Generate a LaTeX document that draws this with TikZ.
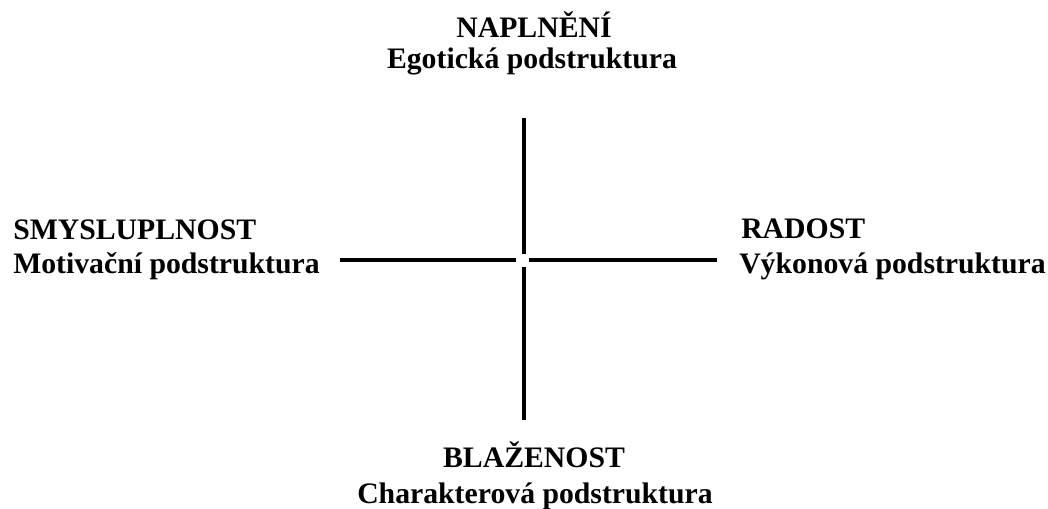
\documentclass[tikz,border=0pt]{standalone}
\usepackage{fontspec}
\setmainfont{Liberation Serif}
\begin{document}
\begin{tikzpicture}[x=0.75pt,y=-0.75pt,
  lbl/.style={inner sep=0pt,font=\fontsize{22.3}{26}\selectfont\bfseries},
  axis/.style={line width=3pt,line cap=butt,black}]
\useasboundingbox (0,0) rectangle (1048,508);
% labels
\node[lbl,anchor=base] (topA) at (534,37) {NAPLNĚNÍ};
\node[lbl,anchor=base] (topB) at (532,68) {Egotická podstruktura};
\node[lbl,anchor=base west] (leftA) at (13,239) {SMYSLUPLNOST};
\node[lbl,anchor=base west] (leftB) at (13,273) {Motivační podstruktura};
\node[lbl,anchor=base west] (rightA) at (741,238) {RADOST};
\node[lbl,anchor=base west] (rightB) at (739,273) {Výkonová podstruktura};
\node[lbl,anchor=base] (botA) at (534,467) {BLAŽENOST};
\node[lbl,anchor=base] (botB) at (535,503) {Charakterová podstruktura};
% axis end points
\coordinate (nT) at (523.5,118);
\coordinate (cT) at (523.5,254);
\coordinate (cB) at (523.5,267);
\coordinate (nB) at (523.5,420);
\coordinate (nL) at (340,260);
\coordinate (cL) at (516,260);
\coordinate (cR) at (529,260);
\coordinate (nR) at (717,260);
\draw[axis] (nT) -- (cT);
\draw[axis] (cB) -- (nB);
\draw[axis] (nL) -- (cL);
\draw[axis] (cR) -- (nR);
\end{tikzpicture}
\end{document}
